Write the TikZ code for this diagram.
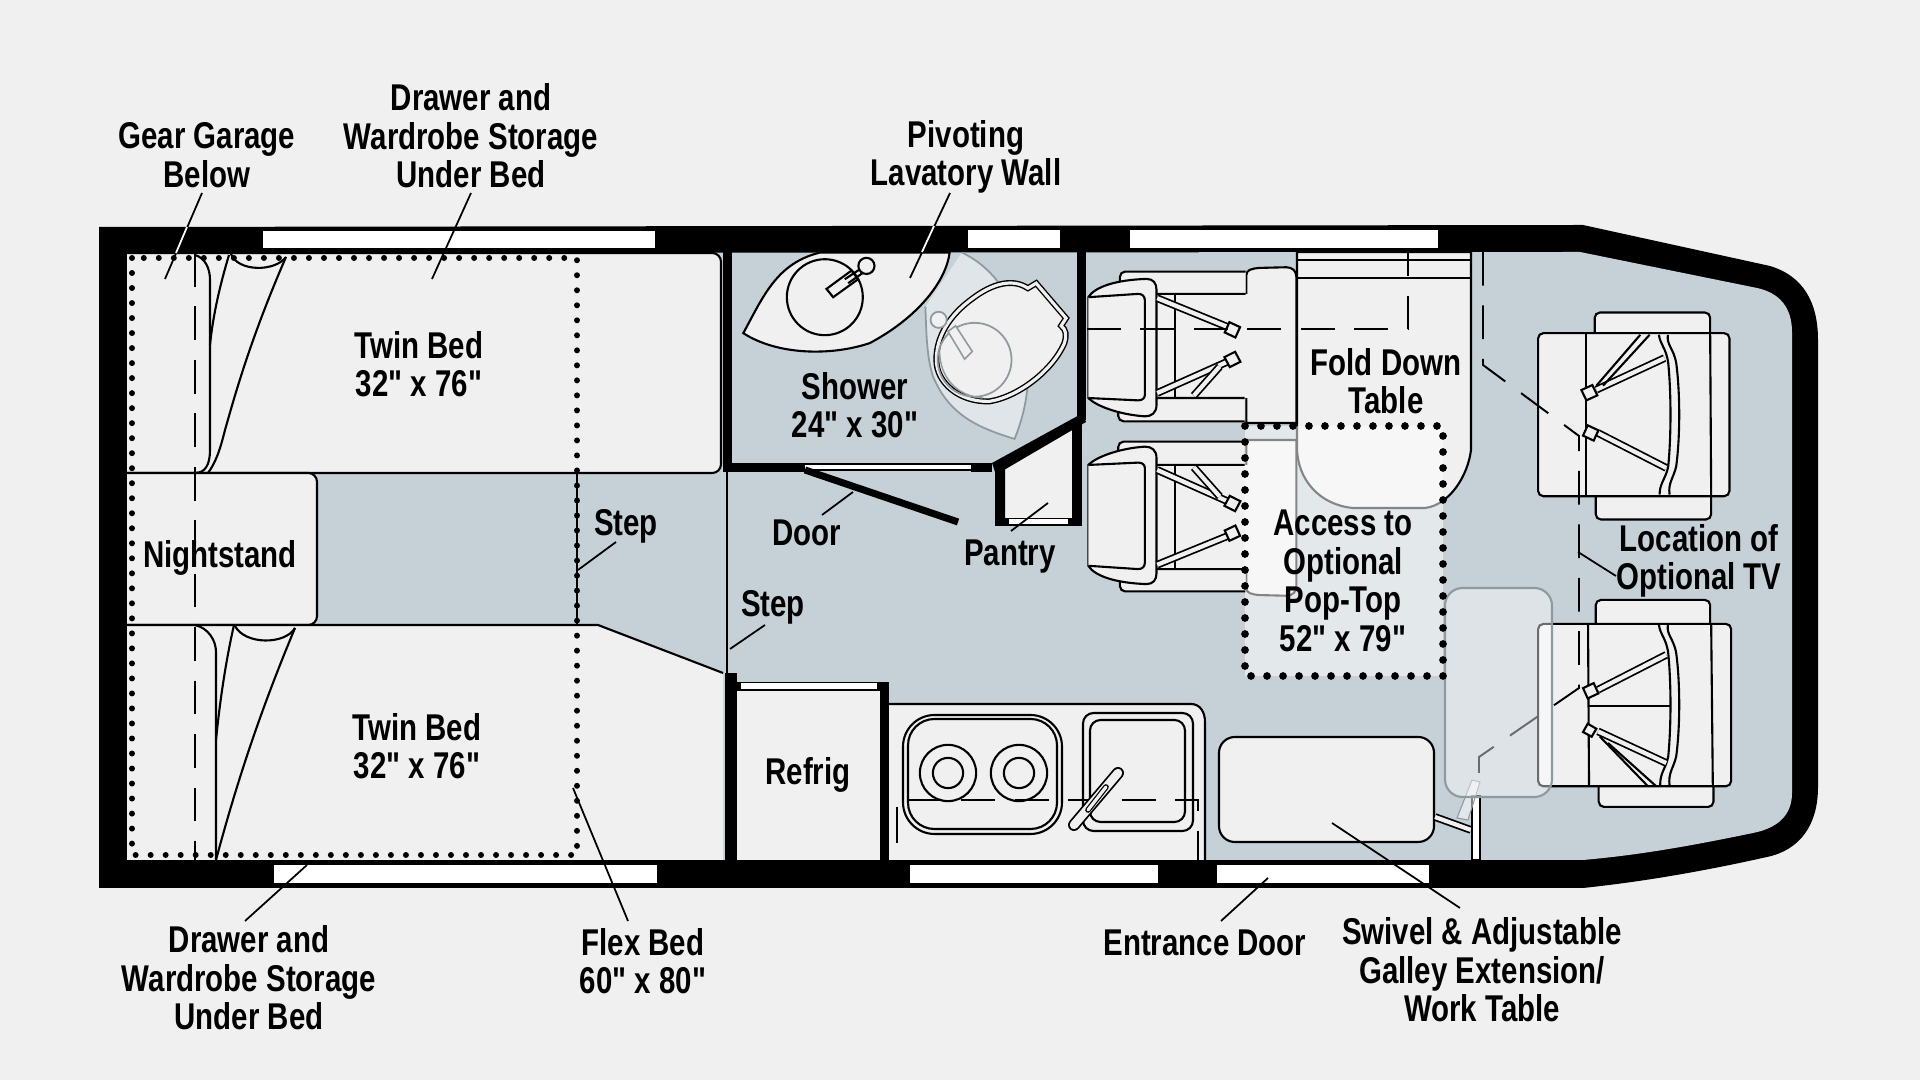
\documentclass[tikz,border=0pt]{standalone}
\usepackage{fontspec}
\newfontfamily\labelfont[FakeStretch=0.79]{Liberation Sans}
\definecolor{pagegrey}{HTML}{F0F0F0}
\definecolor{floorblue}{HTML}{C5D0D7}
\definecolor{overlaygrey}{HTML}{8F9A9F}
\tikzset{
  planline/.style={black,line width=0.6pt},
  lightpart/.style={planline,fill=pagegrey},
  windowpane/.style={fill=white},
  callout/.style={black,line width=0.5pt},
  calloutwhite/.style={white,line width=0.5pt},
  dashline/.style={black,line width=0.55pt,dash pattern=on 9.6pt off 5.6pt},
  flexdots/.style={black,line width=1.7pt,line cap=round,dash pattern=on 0pt off 4.27pt},
  popdots/.style={black,line width=2.2pt,line cap=round,dash pattern=on 0pt off 4.55pt},
  strap/.style={black,line width=0.5pt,double=pagegrey,double distance=1.2pt},
  planlabel/.style={align=center,inner sep=0pt,font=\labelfont\bfseries\fontsize{10.6pt}{10.95pt}\selectfont}
}
% one cab seat, in coordinates three times finer than the plan
\newcommand{\cabseat}{
  \filldraw [lightpart] (530,610) -- (530,165) .. controls (530,150) and (545,146) .. (570,144) -- (650,142) .. controls (670,142) and (680,155) .. (680,170) -- (680,610) -- cycle;
  \fill [pagegrey] (255,222) rectangle (538,535);
  \draw [planline] (315,222) -- (315,535);
  \filldraw [lightpart,rounded corners=1.5pt] (528,155) -- (150,155) -- (150,222) -- (528,222);
  \filldraw [lightpart,rounded corners=1.5pt] (525,535) -- (145,535) -- (145,605) -- (525,605);
  \filldraw [lightpart] (55,232) .. controls (75,200) and (140,180) .. (230,177) .. controls (250,177) and (260,190) .. (260,210) -- (260,555) .. controls (260,580) and (245,590) .. (225,590) .. controls (150,585) and (80,560) .. (55,535) -- cycle;
  \filldraw [lightpart] (55,232) -- (205,222) .. controls (218,222) and (225,230) .. (225,242) -- (225,525) .. controls (225,535) and (218,542) .. (205,542) -- (55,535);
  \draw [strap] (262,235) -- (475,322);
  \draw [strap] (262,520) -- (475,425);
  \draw [strap] (372,528) -- (450,440);
  \filldraw [lightpart] (497,353) -- (511,322) -- (479,307) -- (465,338) -- cycle;
  \filldraw [lightpart] (512,426) -- (496,396) -- (464,412) -- (480,442) -- cycle;
}
\begin{document}
\begin{tikzpicture}[x=0.01cm,y=-0.01cm]
  \useasboundingbox (0,0) rectangle (1920,1080);
  \fill [pagegrey] (0,0) rectangle (1920,1080);
  % shell and floor
  \fill [black] (99,227) -- (1583,225) -- (1770,266) .. controls (1803,276) and (1818,302) .. (1818,340) -- (1818,787) .. controls (1818,825) and (1800,850) .. (1767,857) .. controls (1700,872) and (1640,882) .. (1583,888) -- (99,888) -- cycle;
  \fill [floorblue] (127,253) -- (1580,252) -- (1757,288) .. controls (1780,293) and (1792,308) .. (1792,332) -- (1792,793) .. controls (1792,815) and (1778,828) .. (1753,833) .. controls (1690,846) and (1640,855) .. (1583,860) -- (127,860) -- cycle;
  \fill [windowpane] (263,231) rectangle (655,248);
  \fill [windowpane] (968,230) rectangle (1060,248);
  \fill [windowpane] (1130,230) rectangle (1438,248);
  \fill [windowpane] (274,865) rectangle (657,883);
  \fill [windowpane] (910,865) rectangle (1158,883);
  \fill [windowpane] (1217,865) rectangle (1429,883);
  % beds
  \filldraw [lightpart,rounded corners=2.5pt] (127,253) -- (721,253) -- (721,473) -- (127,473);
  \filldraw [lightpart,rounded corners=2.5pt] (127,473) -- (317,473) -- (317,625) -- (127,625);
  \fill [pagegrey] (127,625) -- (598,625) -- (723,673) -- (723,860) -- (127,860) -- cycle;
  \draw [planline] (127,625) -- (598,625) -- (723,673);
  \draw [planline] (195,255) .. controls (205,258) and (210,268) .. (210,280) -- (210,450) .. controls (210,465) and (205,473) .. (195,473);
  \draw [planline] (229,255) .. controls (220,285) and (213,315) .. (210,345);
  \draw [planline] (286,257) .. controls (250,340) and (235,395) .. (225,430) .. controls (220,450) and (216,462) .. (208,473);
  \draw [planline] (231,254) .. controls (238,272) and (275,272) .. (286,257);
  \draw [planline] (195,625) .. controls (208,628) and (216,640) .. (216,652) -- (216,860);
  \draw [planline] (234,625) .. controls (226,660) and (220,700) .. (216,740);
  \draw [planline] (295,628) .. controls (265,700) and (240,770) .. (216,860);
  \draw [planline] (235,626) .. controls (245,645) and (285,645) .. (295,628);
  \draw [dashline] (195,253) -- (195,860);
  \draw [flexdots] (132,258) rectangle (577,855);
  \draw [planline] (577,473) -- (577,625);
  % bath walls, door and pantry
  \filldraw [lightpart] (1004,468) -- (1075,425) -- (1075,520) -- (1004,520) -- cycle;
  \fill [black] (723,252) rectangle (732,472);
  \fill [black] (723,463) rectangle (805,472);
  \fill [white] (805,465) rectangle (971,469);
  \draw [planline] (805,464) -- (971,464) (805,470) -- (971,470);
  \fill [black] (971,463) rectangle (992,472);
  \fill [black] (1077,252) rectangle (1086,420);
  \fill [black] (992,463) -- (1083,413) -- (1086,422) -- (1004,470) -- (1004,526) -- (995,526) -- (995,472) -- cycle;
  \fill [black] (1072,420) rectangle (1082,526);
  \fill [black] (995,518) rectangle (1082,526);
  \fill [windowpane] (1009,519) rectangle (1068,524);
  \draw [black,line width=2pt] (805,470) -- (958,522);
  \draw [planline] (727,472) -- (727,673);
  % lavatory and toilet
  \begin{scope}[shift={(720,220)},x=0.0033333cm,y=-0.0033333cm]
    \filldraw [lightpart] (70,340) .. controls (130,230) and (170,130) .. (300,98) -- (690,98) .. controls (680,180) and (600,290) .. (450,370) .. controls (330,410) and (170,405) .. (70,340) -- cycle;
    \draw [planline] (315,232) circle (10.8pt);
    \filldraw [lightpart] (320,207) -- (340,232) -- (415,178) -- (395,152) -- cycle;
    \draw [planline] (375,178) -- (425,145) (385,190) -- (432,157);
    \draw [planline,fill=pagegrey] (440,138) circle (2.3pt);
    \filldraw [fill=white,fill opacity=0.45,draw=overlaygrey,line width=0.5pt] (727,98) .. controls (860,160) and (925,320) .. (925,470) .. controls (925,540) and (905,610) .. (885,658) .. controls (780,625) and (690,590) .. (640,470) .. controls (620,410) and (620,330) .. (617,260);
    \filldraw [fill=pagegrey,draw=black,line width=0.4pt,double=pagegrey,double distance=0.9pt] (1040,295) -- (950,190) -- (925,205) .. controls (880,175) and (820,190) .. (760,235) .. controls (690,285) and (650,350) .. (650,420) .. controls (650,490) and (720,548) .. (810,545) .. controls (900,530) and (1000,450) .. (1035,370) .. controls (1042,345) and (1040,330) .. (1025,318) -- cycle;
    \draw [overlaygrey,line width=0.5pt] (765,420) circle (10.5pt);
    \draw [overlaygrey,line width=0.4pt] (660,395) .. controls (660,470) and (710,530) .. (790,535);
    \filldraw [overlaygrey,line width=0.45pt,fill=pagegrey] (685,335) -- (708,318) -- (758,395) -- (735,418) -- cycle;
    \draw [overlaygrey,line width=0.5pt,fill=pagegrey] (657,300) circle (2.3pt);
  \end{scope}
  % fold down table and cab seats
  \filldraw [lightpart] (1297,252) -- (1471,252) -- (1471,450) .. controls (1468,475) and (1450,505) .. (1425,508) -- (1353,508) .. controls (1320,505) and (1297,480) .. (1297,447) -- cycle;
  \draw [planline] (1297,260) -- (1471,260);
  \draw [planline] (1297,278) -- (1471,278);
  \begin{scope}[shift={(1070,220)},x=0.0033333cm,y=-0.0033333cm]
    \cabseat
  \end{scope}
  \begin{scope}[shift={(1070,643)},x=0.0033333cm,y=0.0033333cm]
    \cabseat
  \end{scope}
  \draw [dashline] (1087,329) -- (1408,329) -- (1408,252);
  % rear facing seat, upper
  \begin{scope}[shift={(1400,220)},x=0.0033333cm,y=-0.0033333cm]
    \filldraw [lightpart,rounded corners=1.5pt] (585,340) -- (585,278) -- (932,278) -- (932,340);
    \filldraw [lightpart,rounded corners=1.5pt] (588,830) -- (588,900) -- (935,900) -- (935,830);
    \filldraw [lightpart,rounded corners=1.5pt] (415,340) rectangle (990,830);
    \draw [planline] (560,340) -- (560,830);
    \draw [planline] (932,340) -- (935,830);
    \draw [planline] (778,345) .. controls (782,375) and (800,385) .. (806,430) .. controls (815,520) and (815,650) .. (806,740) .. controls (800,775) and (780,790) .. (780,825);
    \draw [planline] (805,345) .. controls (800,375) and (822,385) .. (830,430) .. controls (842,520) and (842,650) .. (830,740) .. controls (822,775) and (805,790) .. (810,825);
    \draw [strap] (590,510) -- (795,415);
    \draw [strap] (595,640) -- (800,745);
    \draw [planline] (590,498) -- (722,345);
    \draw [planline] (610,498) -- (750,345);
    \filldraw [lightpart] (593,527) -- (578,496) -- (545,511) -- (560,542) -- cycle;
    \filldraw [lightpart] (582,663) -- (596,632) -- (564,617) -- (550,648) -- cycle;
  \end{scope}
  % rear facing seat, lower
  \begin{scope}[shift={(1400,560)},x=0.0033333cm,y=-0.0033333cm]
    \filldraw [lightpart,rounded corners=1.5pt] (588,190) -- (588,120) -- (932,120) -- (932,190);
    \filldraw [lightpart,rounded corners=1.5pt] (597,682) -- (597,742) -- (942,742) -- (942,682);
    \filldraw [lightpart,rounded corners=1.5pt] (415,192) rectangle (995,680);
    \draw [planline] (565,192) -- (568,680);
    \draw [planline] (935,192) -- (940,680);
    \draw [planline] (565,440) -- (815,440);
    \draw [planline] (778,195) .. controls (782,225) and (800,235) .. (806,280) .. controls (815,370) and (815,500) .. (806,590) .. controls (800,625) and (780,640) .. (782,678);
    \draw [planline] (805,195) .. controls (800,225) and (822,235) .. (830,280) .. controls (842,370) and (842,500) .. (830,590) .. controls (822,625) and (805,640) .. (810,678);
    \draw [strap] (595,390) -- (800,285);
    \draw [strap] (595,515) -- (800,610);
    \draw [planline] (600,530) -- (745,680);
    \draw [planline] (625,550) -- (770,680);
    \filldraw [lightpart] (596,401) -- (582,370) -- (550,385) -- (564,416) -- cycle;
    \filldraw [lightpart] (576,531) -- (590,507) -- (564,492) -- (550,517) -- cycle;
  \end{scope}
  \draw [dashline] (1483,252) -- (1483,365) -- (1579,436) -- (1579,688) -- (1479,757) -- (1479,777);
  % galley
  \fill [black] (725,673) rectangle (737,860);
  \fill [pagegrey] (737,691) rectangle (880,860);
  \fill [black] (737,682) rectangle (889,691);
  \fill [black] (880,682) rectangle (889,860);
  \fill [windowpane] (741,683) rectangle (877,689);
  \fill [pagegrey] (889,704) -- (1191,704) .. controls (1200,704) and (1205,712) .. (1205,722) -- (1205,860) -- (889,860) -- cycle;
  \draw [planline] (889,704) -- (1191,704) .. controls (1200,704) and (1205,712) .. (1205,722) -- (1205,860);
  \draw [planline,rounded corners=9pt] (903,715) rectangle (1062,834);
  \draw [planline,rounded corners=7.5pt] (908,719) rectangle (1057,829);
  \draw [planline] (948,773) circle (8pt);
  \draw [planline] (948,773) circle (4.3pt);
  \draw [planline] (1019,773) circle (8pt);
  \draw [planline] (1019,773) circle (4.3pt);
  \draw [planline,rounded corners=3pt] (1083,713) rectangle (1193,831);
  \draw [planline,rounded corners=3pt] (1090,720) rectangle (1185,822);
  \draw [dashline] (908,800) -- (1198,800) -- (1198,860);
  \draw [planline] (897,807) -- (897,843);
  \draw [black,line width=0.5pt,line cap=round,double=pagegrey,double distance=2.4pt] (1118,773) -- (1074,825);
  \draw [black,line width=0.35pt,line cap=round,double=pagegrey,double distance=0.9pt] (1106,787) -- (1088,810);
  % swivel table, its arm and its post
  \filldraw [lightpart,rounded corners=4.5pt] (1219,737) rectangle (1434,842);
  \draw [strap] (1435,817) -- (1471,830);
  \filldraw [planline,fill=white] (1472,796) rectangle (1480,860);
  \filldraw [fill=white,fill opacity=0.5,draw=overlaygrey,line width=0.3pt] (1472,780) -- (1480,782) -- (1468,820) -- (1457,818) -- cycle;
  \filldraw [fill=white,fill opacity=0.42,draw=overlaygrey,line width=0.6pt,rounded corners=5pt] (1445,588) rectangle (1552,797);
  % pop-top opening
  \fill [white,opacity=0.52] (1245,426) rectangle (1443,676);
  \draw [popdots] (1245,426) rectangle (1443,676);
  % leaders
  \coordinate (gearTop) at (202,193);
  \coordinate (gearEnd) at (165,279);
  \coordinate (gearBandTop) at (187,227);
  \coordinate (gearBandEnd) at (176,253);
  \coordinate (drawerTop) at (471,193);
  \coordinate (drawerEnd) at (432,279);
  \coordinate (lavTop) at (950,193);
  \coordinate (lavEnd) at (910,278);
  \coordinate (lavBandTop) at (934,226);
  \coordinate (lavBandEnd) at (922,252);
  \coordinate (stepOneTop) at (616,542);
  \coordinate (stepOneEnd) at (578,570);
  \coordinate (stepTwoTop) at (765,625);
  \coordinate (stepTwoEnd) at (730,649);
  \coordinate (doorTop) at (853,492);
  \coordinate (doorEnd) at (822,515);
  \coordinate (pantryTop) at (1048,503);
  \coordinate (pantryEnd) at (1011,531);
  \coordinate (tvTop) at (1578,552);
  \coordinate (tvEnd) at (1616,576);
  \coordinate (drawerLowTop) at (307,865);
  \coordinate (drawerLowEnd) at (245,921);
  \coordinate (flexTop) at (573,788);
  \coordinate (flexEnd) at (628,921);
  \coordinate (entranceTop) at (1268,878);
  \coordinate (entranceEnd) at (1221,921);
  \coordinate (swivelTop) at (1332,823);
  \coordinate (swivelEnd) at (1460,908);
  \draw [callout] (gearTop) -- (gearEnd);
  \draw [calloutwhite] (gearBandTop) -- (gearBandEnd);
  \draw [callout] (drawerTop) -- (drawerEnd);
  \draw [callout] (lavTop) -- (lavEnd);
  \draw [calloutwhite] (lavBandTop) -- (lavBandEnd);
  \draw [callout] (stepOneTop) -- (stepOneEnd);
  \draw [callout] (stepTwoTop) -- (stepTwoEnd);
  \draw [callout] (doorTop) -- (doorEnd);
  \draw [callout] (pantryTop) -- (pantryEnd);
  \draw [callout] (tvTop) -- (tvEnd);
  \draw [callout] (drawerLowTop) -- (drawerLowEnd);
  \draw [callout] (flexTop) -- (flexEnd);
  \draw [callout] (entranceTop) -- (entranceEnd);
  \draw [callout] (swivelTop) -- (swivelEnd);
  % labels
  \node [planlabel] (gearLabel) at (207,155) {Gear Garage\\Below};
  \node [planlabel] (drawerLabel) at (471,136) {Drawer and\\Wardrobe Storage\\Under Bed};
  \node [planlabel] (lavLabel) at (966,157) {Pivoting\\Lavatory Wall};
  \node [planlabel] (bedOneLabel) at (419,364) {Twin Bed\\32" x 76"};
  \node [planlabel] (bedTwoLabel) at (417,746) {Twin Bed\\32" x 76"};
  \node [planlabel] (standLabel) at (220,558) {Nightstand};
  \node [planlabel] (stepOneLabel) at (626,526) {Step};
  \node [planlabel] (stepTwoLabel) at (773,607) {Step};
  \node [planlabel] (doorLabel) at (807,533) {Door};
  \node [planlabel] (pantryLabel) at (1010,557) {Pantry};
  \node [planlabel] (showerLabel) at (855,405) {Shower\\24" x 30"};
  \node [planlabel] (foldLabel) at (1386,381) {Fold Down\\Table};
  \node [planlabel] (popLabel) at (1343,581) {Access to\\Optional\\Pop-Top\\52" x 79"};
  \node [planlabel] (tvLabel) at (1699,561) {Location of\\Optional TV};
  \node [planlabel] (refrigLabel) at (808,775) {Refrig};
  \node [planlabel] (drawerLowLabel) at (249,978) {Drawer and\\Wardrobe Storage\\Under Bed};
  \node [planlabel] (flexLabel) at (643,961) {Flex Bed\\60" x 80"};
  \node [planlabel] (entranceLabel) at (1205,943) {Entrance Door};
  \node [planlabel] (swivelLabel) at (1482,970) {Swivel \& Adjustable\\Galley Extension/\\Work Table};
\end{tikzpicture}
\end{document}
